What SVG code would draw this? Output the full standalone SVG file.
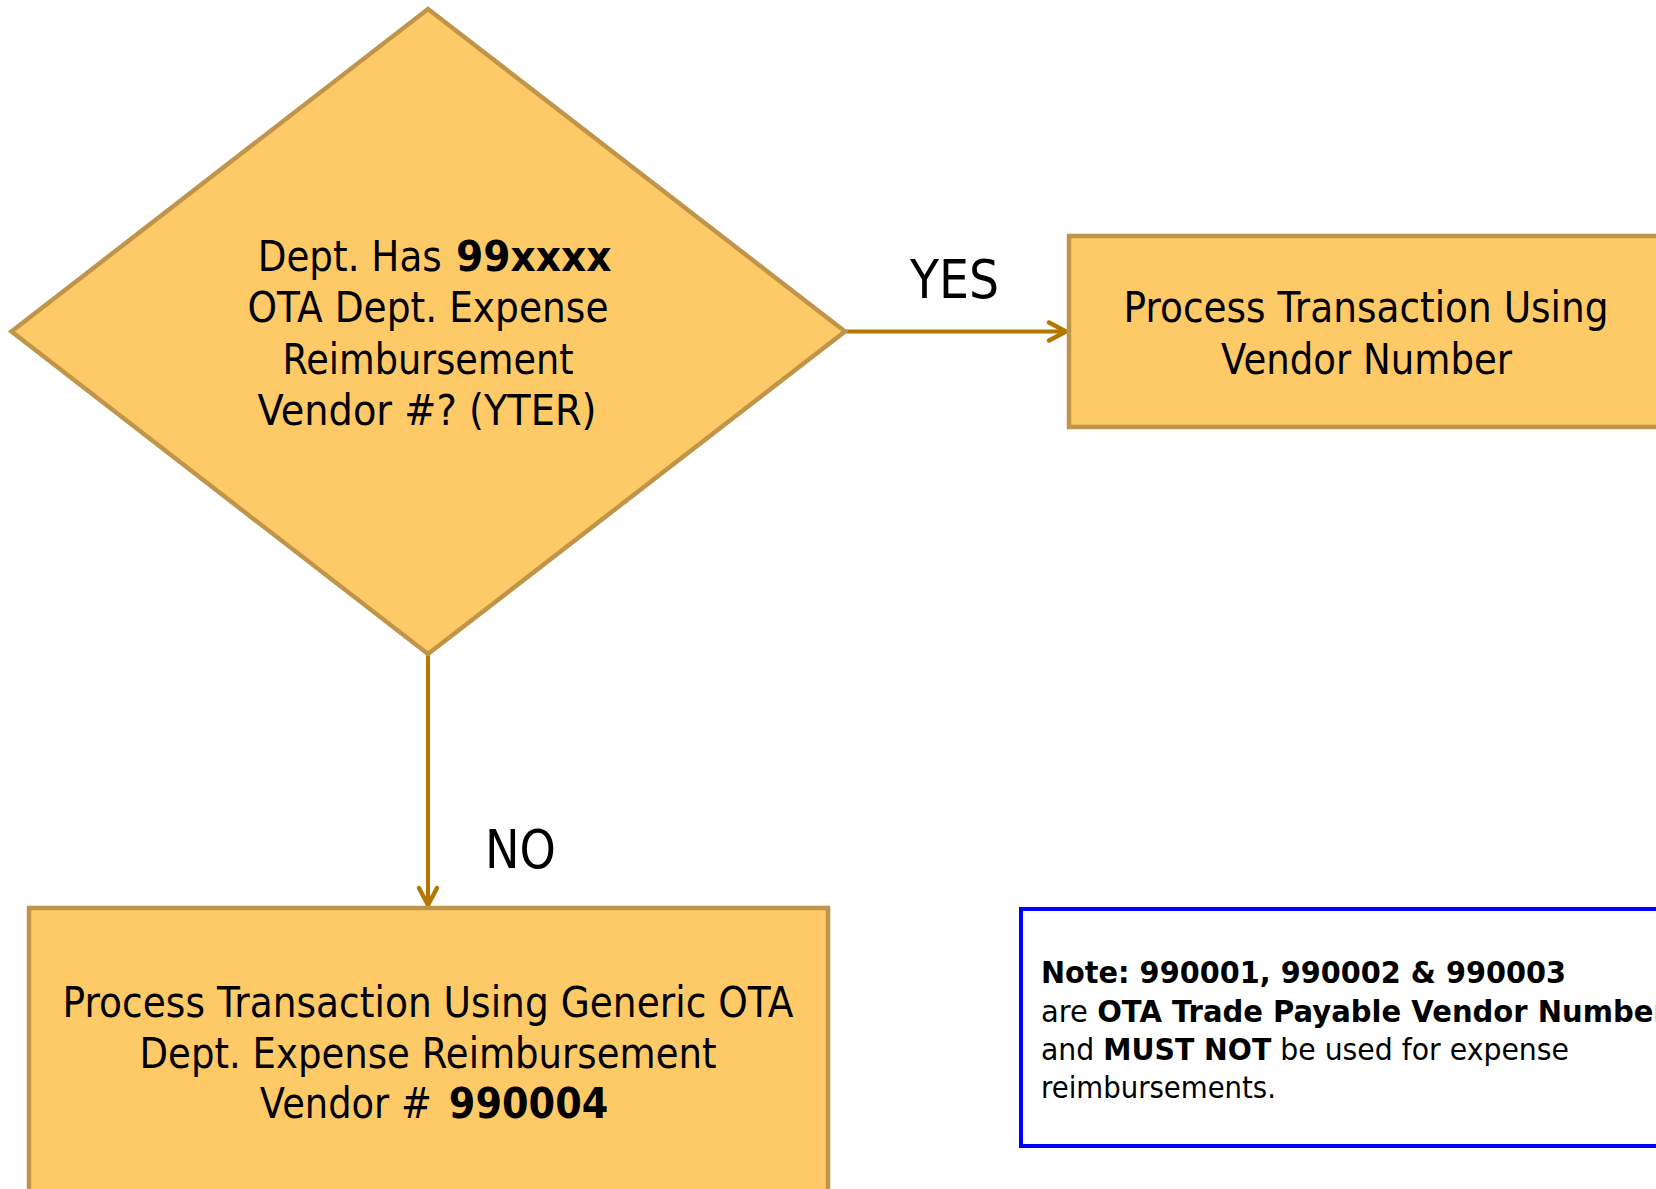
<svg xmlns="http://www.w3.org/2000/svg" width="1656" height="1189" viewBox="0 0 1656 1189">
<defs>
<style>
.shape{fill:#FECA68;stroke:#C0954A;stroke-width:4.5}
.t{font-family:"DejaVu Sans","Liberation Sans",sans-serif;fill:#000;text-anchor:middle}
.s{font-family:"DejaVu Sans","Liberation Sans",sans-serif;fill:#000}
.big{font-size:42px}
.lbl{font-size:53px;font-family:"DejaVu Sans","Liberation Sans",sans-serif;fill:#000}
.note{font-family:"DejaVu Sans","Liberation Sans",sans-serif;font-size:30px;fill:#000}
.b{font-weight:bold}
.conn{stroke:#B47800;stroke-width:4;fill:none}
</style>
<marker id="arr" viewBox="0 0 12 12" refX="11" refY="6" markerWidth="6" markerHeight="6" orient="auto" markerUnits="strokeWidth">
<path d="M2,1.5 L10.5,6 L2,10.5" fill="none" stroke="#B47800" stroke-width="2.2" stroke-linecap="round" stroke-linejoin="round"/>
</marker>
</defs>
<rect width="1656" height="1189" fill="#fff"/>
<g id="connectors">
<line class="conn" x1="845" y1="331.5" x2="1067" y2="331.5" marker-end="url(#arr)"/>
<line class="conn" x1="428" y1="654" x2="428" y2="906" marker-end="url(#arr)"/>
<text class="lbl" x="910" y="298" textLength="89" lengthAdjust="spacingAndGlyphs">YES</text>
<text class="lbl" x="485" y="868" textLength="71" lengthAdjust="spacingAndGlyphs">NO</text>
</g>
<g id="decision">
<polygon class="shape" points="428,9 845,331.5 428,654 11.5,331.5"/>
<text class="s big" x="257.7" y="271" textLength="184" lengthAdjust="spacingAndGlyphs">Dept. Has</text>
<text class="s big b" x="456" y="271" textLength="155.5" lengthAdjust="spacingAndGlyphs">99xxxx</text>
<text class="t big" x="428" y="322" textLength="361" lengthAdjust="spacingAndGlyphs">OTA Dept. Expense</text>
<text class="t big" x="428" y="374" textLength="291" lengthAdjust="spacingAndGlyphs">Reimbursement</text>
<text class="t big" x="427" y="425" textLength="339" lengthAdjust="spacingAndGlyphs">Vendor #? (YTER)</text>
</g>
<g id="yes-box">
<rect class="shape" x="1069" y="236" width="600" height="191"/>
<text class="t big" x="1366" y="322" textLength="485" lengthAdjust="spacingAndGlyphs">Process Transaction Using</text>
<text class="t big" x="1366.5" y="374" textLength="291" lengthAdjust="spacingAndGlyphs">Vendor Number</text>
</g>
<g id="no-box">
<rect class="shape" x="29" y="908" width="799" height="300"/>
<text class="t big" x="428" y="1017" textLength="731" lengthAdjust="spacingAndGlyphs">Process Transaction Using Generic OTA</text>
<text class="t big" x="428" y="1068" textLength="577" lengthAdjust="spacingAndGlyphs">Dept. Expense Reimbursement</text>
<text class="s big" x="259.8" y="1118" textLength="172" lengthAdjust="spacingAndGlyphs">Vendor #</text>
<text class="s big b" x="448.8" y="1118" textLength="159.5" lengthAdjust="spacingAndGlyphs">990004</text>
</g>
<g id="note">
<rect x="1021" y="909" width="660" height="237" fill="#fff" stroke="#0000FF" stroke-width="4"/>
<text class="note b" x="1041" y="983" textLength="525" lengthAdjust="spacingAndGlyphs">Note: 990001, 990002 &amp; 990003</text>
<text class="note" x="1041" y="1022" textLength="644" lengthAdjust="spacingAndGlyphs">are <tspan class="b">OTA Trade Payable Vendor Numbers</tspan></text>
<text class="note" x="1041" y="1060" textLength="528" lengthAdjust="spacingAndGlyphs">and <tspan class="b">MUST NOT</tspan> be used for expense</text>
<text class="note" x="1041" y="1098" textLength="235" lengthAdjust="spacingAndGlyphs">reimbursements.</text>
</g>
</svg>
